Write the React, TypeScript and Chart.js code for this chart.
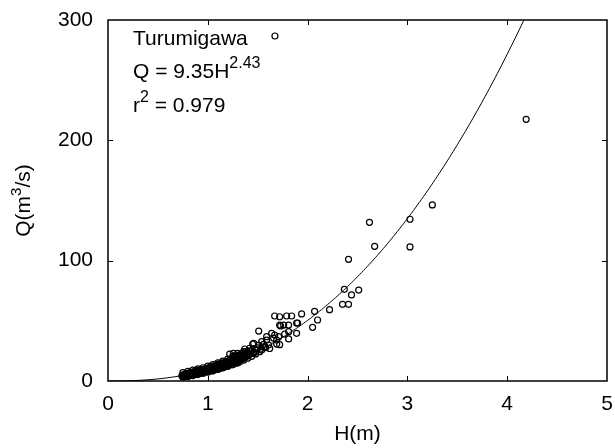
import React, { useEffect, useRef } from "react";
import { Chart, registerables } from "chart.js";

Chart.register(...registerables);

const FONT = '"Liberation Sans", Arial, sans-serif';

// Rating-curve fit Q = a * H^b
const stationName = "Turumigawa";
const fitCoef = 9.35;
const fitExp = 2.43;
const fitR2 = 0.979;

const xTickValues = [0, 1, 2, 3, 4, 5];
const yTickValues = [0, 100, 200, 300];

// Observed stage H (m)
const stageH: number[] = [
  0.74, 0.75, 0.76, 0.77, 0.77, 0.78, 0.79, 0.79, 0.8, 0.81, 0.81, 0.82, 0.83, 0.83, 0.84,
  0.85, 0.85, 0.86, 0.87, 0.87, 0.88, 0.89, 0.89, 0.9, 0.91, 0.91, 0.92, 0.93, 0.93, 0.94,
  0.95, 0.95, 0.96, 0.97, 0.97, 0.98, 0.99, 0.99, 1.0, 1.01, 1.01, 1.02, 1.03, 1.03, 1.04,
  1.05, 1.05, 1.06, 1.07, 1.07, 1.08, 1.09, 1.09, 1.1, 1.11, 1.11, 1.12, 1.13, 1.13, 1.14,
  1.15, 1.15, 1.16, 1.17, 1.17, 1.18, 1.19, 1.19, 1.2, 1.21, 1.21, 1.22, 1.23, 1.23, 1.24,
  1.25, 1.25, 1.26, 1.26, 1.27, 1.27, 1.28, 1.28, 1.29, 1.29, 1.3, 1.3, 1.31, 1.31, 1.32,
  1.33, 1.33, 1.34, 1.35, 1.35, 1.36, 1.37, 1.38, 1.39, 1.4, 1.41, 1.43, 1.44, 1.46, 1.47,
  1.49,
  0.76, 0.78, 0.8, 0.82, 0.84, 0.86, 0.88, 0.9, 0.92, 0.94, 0.96, 0.98, 1.0, 1.02, 1.04,
  1.06, 1.08, 1.1, 1.12, 1.14, 1.16, 1.18, 1.2, 1.22, 1.24, 1.26, 1.28, 1.3, 1.32, 1.34,
  1.36, 1.38, 1.4, 1.42, 1.44, 1.48, 1.5, 1.53, 1.56, 1.58,
  0.75, 0.75, 0.8, 0.8, 0.85, 0.85, 0.9, 0.9, 0.95, 0.95, 1.0, 1.0, 1.05, 1.05, 1.1,
  1.1, 1.15, 1.15, 1.2, 1.2, 1.25, 1.25, 1.3, 1.3,
  1.22, 1.37, 1.256, 1.45, 1.51, 1.54, 1.59, 1.64, 1.67, 1.72, 1.81, 1.81, 1.89, 1.89, 1.69,
  1.72, 1.62, 1.57, 1.52, 1.34, 1.31, 1.76, 1.71, 1.81, 1.66, 1.59, 1.61, 1.69, 1.51, 1.46,
  1.42, 1.54, 1.36, 1.46, 1.39, 1.77, 1.73, 1.67, 1.72, 1.79, 1.84, 1.94, 1.9, 2.05, 2.07,
  2.1, 2.22, 2.35, 2.41, 2.44, 2.368, 2.512, 2.41, 2.62, 2.672, 3.026, 3.026, 3.25, 4.19, 1.673,
];

// Observed discharge Q (m3/s)
const dischargeQ: number[] = [
  4.3, 5.2, 4.6, 5.6, 4.4, 5.0, 6.0, 4.8, 5.4, 6.3, 5.0, 5.8, 6.6, 5.2, 6.1,
  7.0, 5.6, 6.5, 7.4, 5.9, 6.8, 7.8, 6.2, 7.2, 8.1, 6.6, 7.6, 8.6, 7.0, 8.0,
  9.0, 7.3, 8.4, 9.5, 7.7, 8.8, 9.9, 8.1, 9.3, 10.5, 8.6, 9.8, 11.0, 9.0, 10.3,
  11.6, 9.5, 10.8, 12.2, 10.0, 11.3, 12.8, 10.5, 11.8, 13.4, 11.0, 12.3, 14.0, 11.5, 12.9,
  14.6, 12.0, 13.5, 15.2, 12.6, 14.1, 15.8, 13.2, 14.7, 16.4, 13.8, 15.4, 17.0, 14.4, 16.0,
  19.5, 15.0, 17.5, 21.0, 16.2, 19.0, 18.0, 15.8, 20.5, 17.0, 19.0, 16.5, 18.0, 21.5, 19.5,
  17.5, 22.0, 20.0, 18.5, 23.0, 21.0, 19.5, 22.5, 20.5, 24.0, 21.5, 23.0, 25.5, 24.0, 27.0,
  25.5,
  3.8, 6.2, 4.3, 7.0, 5.0, 7.9, 5.6, 8.8, 6.3, 9.6, 7.0, 10.5, 7.8, 11.6, 8.6,
  12.6, 9.5, 13.8, 10.4, 15.0, 11.4, 16.2, 12.5, 17.5, 13.6, 18.8, 14.8, 21.0, 16.0, 23.0,
  17.4, 24.5, 19.0, 25.0, 20.5, 22.5, 27.5, 26.5, 30.5, 27.8,
  7.0, 3.2, 8.0, 3.8, 9.0, 4.5, 10.0, 5.3, 11.0, 6.3, 12.3, 7.3, 13.6, 8.4, 15.0,
  9.6, 16.5, 10.9, 18.2, 12.2, 20.5, 13.5, 23.0, 15.0,
  22.4, 26.6, 23.0, 30.7, 41.5, 32.7, 36.8, 39.6, 38.2, 46.5, 41.0, 46.5, 39.6, 48.2, 34.0,
  30.2, 27.0, 28.5, 24.4, 21.6, 18.8, 46.5, 36.8, 35.0, 35.5, 34.0, 29.9, 30.7, 29.9, 31.3,
  27.2, 25.8, 24.4, 23.0, 21.6, 39.0, 45.7, 54.0, 53.4, 54.0, 54.0, 55.7, 48.2, 44.6, 57.9,
  50.7, 59.3, 63.7, 63.7, 71.5, 76.2, 75.6, 101.1, 131.9, 111.9, 134.4, 111.4, 146.3, 217.5, 286.7,
];

// Stage values at which the fitted curve is evaluated
const curveH: number[] = Array.from({ length: 216 }, (_, i) => i * 0.02);

type Part = { text: string; sup?: boolean };

function drawRich(
  ctx: CanvasRenderingContext2D,
  parts: Part[],
  x: number,
  y: number,
  size: number,
  supSize: number,
  raise: number,
  center: boolean
) {
  const mainFont = `${size}px ${FONT}`;
  const supFont = `${supSize}px ${FONT}`;
  let total = 0;
  for (const p of parts) {
    ctx.font = p.sup ? supFont : mainFont;
    total += ctx.measureText(p.text).width;
  }
  let cx = center ? x - total / 2 : x;
  ctx.textAlign = "left";
  ctx.textBaseline = "alphabetic";
  for (const p of parts) {
    ctx.font = p.sup ? supFont : mainFont;
    ctx.fillText(p.text, cx, p.sup ? y - raise : y);
    cx += ctx.measureText(p.text).width;
  }
}

const framePlugin = {
  id: "frameAndLabels",
  afterDraw(chart: any) {
    const { ctx, chartArea: a, scales } = chart;
    const xs = scales.x;
    const ys = scales.y;
    ctx.save();
    ctx.strokeStyle = "#000";
    ctx.fillStyle = "#000";
    ctx.lineWidth = 1.5;
    ctx.strokeRect(a.left, a.top, a.right - a.left, a.bottom - a.top);

    // inward tick marks on all four sides
    const tl = 5;
    ctx.lineWidth = 1;
    ctx.beginPath();
    for (const v of xTickValues.slice(1, -1)) {
      const px = Math.round(xs.getPixelForValue(v)) + 0.5;
      ctx.moveTo(px, a.bottom);
      ctx.lineTo(px, a.bottom - tl);
      ctx.moveTo(px, a.top);
      ctx.lineTo(px, a.top + tl);
    }
    for (const v of yTickValues.slice(1, -1)) {
      const py = Math.round(ys.getPixelForValue(v)) + 0.5;
      ctx.moveTo(a.left, py);
      ctx.lineTo(a.left + tl, py);
      ctx.moveTo(a.right, py);
      ctx.lineTo(a.right - tl, py);
    }
    ctx.stroke();

    // annotation block
    const ax = a.left + 25;
    ctx.font = `21px ${FONT}`;
    ctx.textAlign = "left";
    ctx.textBaseline = "alphabetic";
    ctx.fillText(stationName, ax, a.top + 25);
    drawRich(
      ctx,
      [{ text: `Q = ${fitCoef.toFixed(2)}H` }, { text: fitExp.toFixed(2), sup: true }],
      ax,
      a.top + 58,
      21,
      16,
      10,
      false
    );
    drawRich(
      ctx,
      [{ text: "r" }, { text: "2", sup: true }, { text: ` = ${fitR2.toFixed(3)}` }],
      ax,
      a.top + 92,
      21,
      16,
      10,
      false
    );

    // axis titles
    drawRich(ctx, [{ text: "H(m)" }], (a.left + a.right) / 2, 440, 21, 16, 10, true);
    ctx.translate(30, (a.top + a.bottom) / 2);
    ctx.rotate(-Math.PI / 2);
    drawRich(
      ctx,
      [{ text: "Q(m" }, { text: "3", sup: true }, { text: "/s)" }],
      0,
      0,
      21,
      15,
      9,
      true
    );
    ctx.restore();
  },
};

export default function App() {
  const canvasRef = useRef<HTMLCanvasElement | null>(null);

  useEffect(() => {
    if (!canvasRef.current) return;
    const observed = stageH.map((h, i) => ({ x: h, y: dischargeQ[i] }));
    const fitted = curveH.map((h) => ({ x: h, y: fitCoef * Math.pow(h, fitExp) }));

    const chart = new Chart(canvasRef.current, {
      type: "scatter",
      data: {
        datasets: [
          {
            data: fitted,
            showLine: true,
            borderColor: "#000",
            borderWidth: 1,
            pointRadius: 0,
            pointHoverRadius: 0,
            tension: 0,
          },
          {
            data: observed,
            pointStyle: "circle",
            pointRadius: 3,
            pointHoverRadius: 3,
            borderWidth: 1.2,
            borderColor: "#000",
            backgroundColor: "rgba(0,0,0,0)",
          },
        ],
      },
      options: {
        responsive: false,
        animation: false,
        devicePixelRatio: 1,
        layout: { autoPadding: false, padding: { left: 0, right: 8, top: 20, bottom: 0 } },
        plugins: {
          legend: { display: false },
          tooltip: { enabled: false },
        },
        scales: {
          x: {
            type: "linear",
            min: 0,
            max: 5,
            afterFit: (s: any) => {
              s.height = 67;
              s.paddingLeft = 0;
              s.paddingRight = 0;
            },
            ticks: {
              stepSize: 1,
              color: "#000",
              font: { family: FONT, size: 21 },
              padding: 11,
            },
            grid: { display: false, drawTicks: false },
            border: { display: false },
          },
          y: {
            type: "linear",
            min: 0,
            max: 300,
            afterFit: (s: any) => {
              s.width = 108;
              s.paddingTop = 0;
              s.paddingBottom = 0;
            },
            ticks: {
              stepSize: 100,
              color: "#000",
              font: { family: FONT, size: 21 },
              padding: 15,
            },
            grid: { display: false, drawTicks: false },
            border: { display: false },
          },
        },
      },
      plugins: [framePlugin],
    });
    return () => chart.destroy();
  }, []);

  return (
    <div style={{ position: "absolute", left: 0, top: 0, width: 615, height: 448, background: "#fff" }}>
      <canvas ref={canvasRef} width={615} height={448} style={{ display: "block" }} />
    </div>
  );
}
